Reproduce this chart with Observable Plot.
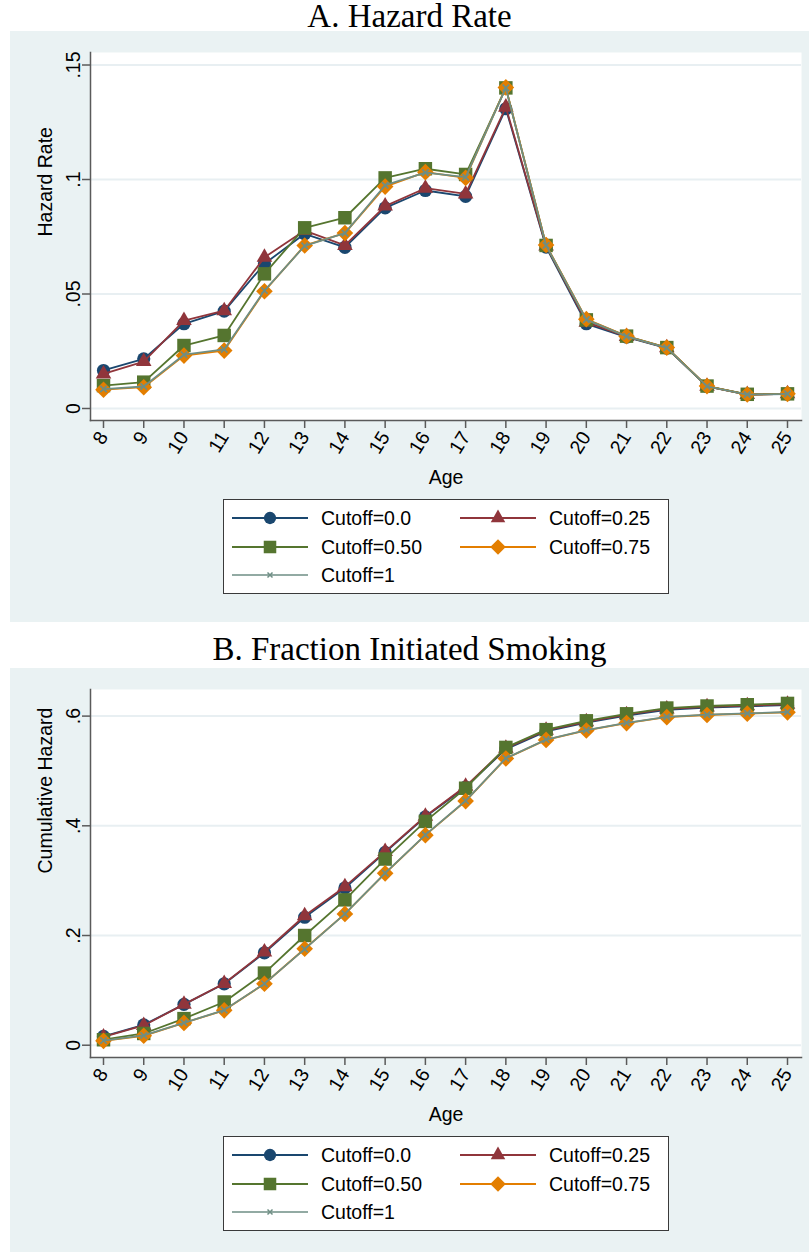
<!DOCTYPE html>
<html><head><meta charset="utf-8">
<script src="https://cdn.jsdelivr.net/npm/d3@7"></script>
<script src="https://cdn.jsdelivr.net/npm/@observablehq/plot@0.6"></script>
<style>
html,body{margin:0;padding:0;background:#fff;}
body{width:809px;height:1253px;position:relative;overflow:hidden;font-family:"Liberation Sans",Arial,sans-serif;}
.title{position:absolute;left:10px;width:799px;height:30px;text-align:center;font-family:"Liberation Serif",serif;font-size:33px;line-height:30px;color:#000;white-space:nowrap;}
.panel{position:absolute;left:10px;width:799px;background:#eaf2f3;}
.panel svg.plot{position:absolute;left:0;top:0;}
.legend{position:absolute;left:213px;top:468px;width:446px;height:95px;background:#fff;border:1.3px solid #3a3a3a;box-sizing:border-box;}
.item{position:absolute;font-size:19.5px;line-height:24px;color:#000;white-space:nowrap;}
.sw{position:absolute;}
</style></head><body>
<div class="title" style="top:1px">A. Hazard Rate</div>
<div class="panel" id="pA" style="top:31px;height:591px"></div>
<div class="title" style="top:634px">B. Fraction Initiated Smoking</div>
<div class="panel" id="pB" style="top:668px;height:584px"></div>
<script>
// ---- data ----
const ages = [8, 9, 10, 11, 12, 13, 14, 15, 16, 17, 18, 19, 20, 21, 22, 23, 24, 25];
const seriesNames = ["Cutoff=0.0", "Cutoff=0.25", "Cutoff=0.50", "Cutoff=0.75", "Cutoff=1"];
const seriesColors = ["#1a476f", "#90353b", "#55752f", "#e37e00", "#6e8e84"];
const seriesSymbols = ["circle", "triangle", "square", "diamond2", "times"];

// Panel A: hazard rate
const hazard00 = [0.0166, 0.0217, 0.0370, 0.0425, 0.0632, 0.0763, 0.0704, 0.0876, 0.0952, 0.0926, 0.1309, 0.0705, 0.0370, 0.0312, 0.0264, 0.0097, 0.0061, 0.0063];
const hazard25 = [0.0151, 0.0205, 0.0384, 0.0427, 0.0660, 0.0777, 0.0712, 0.0884, 0.0962, 0.0937, 0.1316, 0.0710, 0.0377, 0.0314, 0.0265, 0.0097, 0.0061, 0.0064];
const hazard50 = [0.0100, 0.0115, 0.0275, 0.0319, 0.0588, 0.0789, 0.0833, 0.1007, 0.1047, 0.1022, 0.1400, 0.0712, 0.0387, 0.0316, 0.0266, 0.0098, 0.0062, 0.0064];
const hazard75 = [0.0082, 0.0093, 0.0231, 0.0253, 0.0512, 0.0712, 0.0766, 0.0969, 0.1032, 0.1007, 0.1402, 0.0714, 0.0390, 0.0316, 0.0266, 0.0098, 0.0061, 0.0064];
const hazard100 = [0.0085, 0.0096, 0.0235, 0.0258, 0.0515, 0.0710, 0.0766, 0.0975, 0.1030, 0.1010, 0.1400, 0.0712, 0.0388, 0.0315, 0.0265, 0.0097, 0.0061, 0.0064];

// Panel B: cumulative hazard
const cum00 = [0.016, 0.037, 0.0745, 0.112, 0.1685, 0.2333, 0.2867, 0.3515, 0.4164, 0.4704, 0.5398, 0.5722, 0.5880, 0.6010, 0.6116, 0.6153, 0.6176, 0.6200];
const cum25 = [0.015, 0.036, 0.0745, 0.1125, 0.1700, 0.2360, 0.2890, 0.3530, 0.4175, 0.4720, 0.5415, 0.5740, 0.5895, 0.6025, 0.6130, 0.6168, 0.6190, 0.6215];
const cum50 = [0.010, 0.0214, 0.0485, 0.0788, 0.1315, 0.2000, 0.2650, 0.3394, 0.4080, 0.4685, 0.5429, 0.5753, 0.5914, 0.6042, 0.6147, 0.6184, 0.6207, 0.6231];
const cum75 = [0.008, 0.0172, 0.0406, 0.0636, 0.1120, 0.1758, 0.2394, 0.3133, 0.3830, 0.4450, 0.5227, 0.5566, 0.5738, 0.5872, 0.5981, 0.6020, 0.6044, 0.6069];
const cum100 = [0.0085, 0.0178, 0.0408, 0.0641, 0.1122, 0.1752, 0.2394, 0.3138, 0.3834, 0.4456, 0.5233, 0.5572, 0.5744, 0.5878, 0.5987, 0.6026, 0.6050, 0.6075];

const ticksA = [0, 0.05, 0.1, 0.15];
const ticksB = [0, 0.2, 0.4, 0.6];

// ---- styles ----
const symbolR = {circle: 6.6, triangle: 5.8, square: 7.6, diamond2: 7.5, times: 3};
const axisColor = "#5a5a5a";
const gridColor = "#e8eff2";
const fmt = d => d === 0 ? "0" : d3.format(".2~f")(d).replace(/^0/, "");

function makeTable(arrs) {
  const rows = [];
  arrs.forEach((vals, s) => vals.forEach((v, i) => rows.push({age: ages[i], v, s})));
  return rows;
}

function makePlot(arrs, yDomain, yTicks, ylabel) {
  const rows = makeTable(arrs);
  const marks = [
    Plot.frame({fill: "white", stroke: null}),
    Plot.gridY(yTicks, {stroke: gridColor, strokeOpacity: 1, strokeWidth: 2}),
    Plot.frame({anchor: "left", stroke: axisColor, strokeWidth: 1.5}),
    Plot.frame({anchor: "bottom", stroke: axisColor, strokeWidth: 1.5}),
    Plot.axisY(yTicks, {tickSize: 8, tickRotate: -90, tickFormat: fmt, stroke: axisColor, strokeWidth: 1.5, fill: "#000", fontSize: 19.5}),
    Plot.axisX(ages, {tickSize: 8, tickRotate: -58, tickPadding: 5, tickFormat: d => String(d), stroke: axisColor, strokeWidth: 1.5, fill: "#000", fontSize: 19.5}),
    Plot.text([ylabel], {frameAnchor: "left", dx: -45, rotate: -90, fontSize: 19.5, fill: "#000"}),
    Plot.text(["Age"], {frameAnchor: "bottom", dy: 63, fontSize: 19.5, fill: "#000"})
  ];
  seriesNames.forEach((name, s) => {
    const data = rows.filter(r => r.s === s);
    const sym = seriesSymbols[s];
    marks.push(Plot.line(data, {x: "age", y: "v", stroke: seriesColors[s], strokeWidth: 1.8}));
    if (sym === "times") {
      marks.push(Plot.dot(data, {x: "age", y: "v", symbol: sym, r: symbolR[sym], stroke: seriesColors[s], strokeWidth: 1.7, fill: "none"}));
    } else {
      marks.push(Plot.dot(data, {x: "age", y: "v", symbol: sym, r: symbolR[sym], fill: seriesColors[s], stroke: null}));
    }
  });
  const svg = Plot.plot({
    width: 799, height: 466,
    marginLeft: 80, marginRight: 8, marginTop: 21, marginBottom: 77,
    x: {domain: [ages[0], ages[ages.length - 1]], insetLeft: 13, insetRight: 14, label: null},
    y: {domain: yDomain, label: null},
    style: {background: "transparent", fontFamily: "'Liberation Sans', Arial, sans-serif", fontSize: "19px", overflow: "visible"},
    marks
  });
  svg.classList.add("plot");
  return svg;
}

function makeLegend() {
  const lg = document.createElement("div");
  lg.className = "legend";
  const rowsY = [19.5, 47.8, 76];
  const cols = [{sw: 8, lab: 97}, {sw: 236, lab: 325}];
  const symMap = {circle: d3.symbolCircle, triangle: d3.symbolTriangle, square: d3.symbolSquare, diamond2: d3.symbolDiamond2, times: d3.symbolTimes};
  seriesNames.forEach((name, s) => {
    const row = Math.floor(s / 2), col = s % 2;
    const cy = rowsY[row];
    const sw = document.createElementNS("http://www.w3.org/2000/svg", "svg");
    sw.setAttribute("width", 77); sw.setAttribute("height", 20);
    sw.setAttribute("class", "sw");
    sw.style.left = cols[col].sw + "px";
    sw.style.top = (cy - 10 - 1.3) + "px";
    const sym = seriesSymbols[s];
    const r = symbolR[sym] * (sym === "times" ? 0.8 : 0.93);
    const path = d3.symbol(symMap[sym], Math.PI * r * r)();
    const filled = sym !== "times";
    sw.innerHTML = `<line x1="0" x2="76" y1="10" y2="10" stroke="${seriesColors[s]}" stroke-width="2" ${sym === "times" ? 'stroke-opacity="0.75"' : ''}/>` +
      `<path transform="translate(38,10)" d="${path}" ${filled ? `fill="${seriesColors[s]}"` : `fill="none" stroke="${seriesColors[s]}" stroke-width="1.5"`}/>`;
    lg.appendChild(sw);
    const lab = document.createElement("div");
    lab.className = "item";
    lab.textContent = name;
    lab.style.left = cols[col].lab + "px";
    lab.style.top = (cy - 12 - 1.3) + "px";
    lg.appendChild(lab);
  });
  return lg;
}

const pA = document.getElementById("pA");
pA.appendChild(makePlot([hazard00, hazard25, hazard50, hazard75, hazard100], [-0.00524, 0.15546], ticksA, "Hazard Rate"));
pA.appendChild(makeLegend());
const pB = document.getElementById("pB");
pB.appendChild(makePlot([cum00, cum25, cum50, cum75, cum100], [-0.0224, 0.6485], ticksB, "Cumulative Hazard"));
pB.appendChild(makeLegend());
</script>
</body></html>
